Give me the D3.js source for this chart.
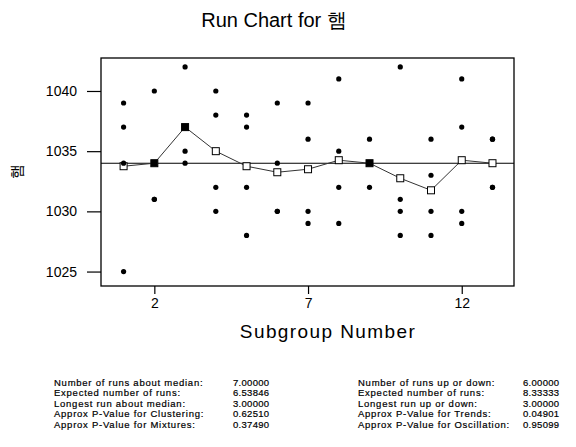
<!DOCTYPE html>
<html>
<head>
<meta charset="utf-8">
<script src="https://cdn.jsdelivr.net/npm/d3@7"></script>
<style>
  html, body { margin: 0; padding: 0; background: #fff; }
  svg { display: block; font-family: Arial, "Liberation Sans", sans-serif; }
</style>
</head>
<body>
<svg id="chart" width="576" height="447"></svg>
<script>
// Subgroup numbers and the four observations recorded in each subgroup
const subgroups = [1, 2, 3, 4, 5, 6, 7, 8, 9, 10, 11, 12, 13];
const observations = [
  [1039, 1037, 1034, 1025],
  [1040, 1034, 1031, 1031],
  [1042, 1037, 1035, 1034],
  [1040, 1038, 1032, 1030],
  [1038, 1037, 1032, 1028],
  [1039, 1034, 1030, 1030],
  [1039, 1036, 1030, 1029],
  [1041, 1035, 1032, 1029],
  [1036, 1034, 1034, 1032],
  [1042, 1031, 1030, 1028],
  [1036, 1033, 1030, 1028],
  [1041, 1037, 1030, 1029],
  [1036, 1036, 1032, 1032]
];
const xTicks = [2, 7, 12];
const yTicks = [1025, 1030, 1035, 1040];

// Run test summary
const medianLabels = ["Number of runs about median:", "Expected number of runs:", "Longest run about median:",
                      "Approx P-Value for Clustering:", "Approx P-Value for Mixtures:"];
const medianValues = ["7.00000", "6.53846", "3.00000", "0.62510", "0.37490"];
const trendLabels = ["Number of runs up or down:", "Expected number of runs:", "Longest run up or down:",
                     "Approx P-Value for Trends:", "Approx P-Value for Oscillation:"];
const trendValues = ["6.00000", "8.33333", "3.00000", "0.04901", "0.95099"];

const svg = d3.select("#chart");
const plot = { left: 101, top: 58, right: 514, bottom: 286 };

const x = d3.scaleLinear().domain([0.265, 13.7]).range([plot.left, plot.right]);
const y = d3.scaleLinear().domain([1023.8, 1042.74]).range([plot.bottom, plot.top]);

const means = observations.map(o => d3.mean(o));
const median = d3.median(means);

// Title
svg.append("text")
  .attr("x", 274).attr("y", 27)
  .attr("text-anchor", "middle")
  .attr("font-size", 20)
  .text("Run Chart for 햄");

// Axes
const yAxis = d3.axisLeft(y).tickValues(yTicks).tickSize(14).tickPadding(10).tickFormat(d3.format("d"));
const gy = svg.append("g").attr("transform", `translate(${plot.left},0)`).call(yAxis);
const xAxis = d3.axisBottom(x).tickValues(xTicks).tickSize(8).tickPadding(4).tickFormat(d3.format("d"));
const gx = svg.append("g").attr("transform", `translate(0,${plot.bottom})`).call(xAxis);
[gy, gx].forEach(g => {
  g.select(".domain").remove();
  g.selectAll(".tick line").attr("stroke", "#000").attr("stroke-width", 1.2);
  g.selectAll(".tick text").attr("font-size", 14).attr("fill", "#000")
    .attr("font-family", "Arial, 'Liberation Sans', sans-serif");
});

// Axis titles
svg.append("text")
  .attr("x", 328).attr("y", 338)
  .attr("text-anchor", "middle")
  .attr("font-size", 19)
  .attr("letter-spacing", 1.4)
  .text("Subgroup Number");
svg.append("text")
  .attr("transform", "translate(22,171) rotate(-90)")
  .attr("text-anchor", "middle")
  .attr("font-size", 15)
  .text("햄");

// Plot frame
svg.append("rect")
  .attr("x", plot.left).attr("y", plot.top)
  .attr("width", plot.right - plot.left).attr("height", plot.bottom - plot.top)
  .attr("fill", "none").attr("stroke", "#000").attr("stroke-width", 1.3);

// Median reference line
svg.append("line")
  .attr("x1", plot.left).attr("x2", plot.right)
  .attr("y1", y(median)).attr("y2", y(median))
  .attr("stroke", "#000").attr("stroke-width", 1.1);

// Subgroup means connected
const meanLine = d3.line().x((d, i) => x(subgroups[i])).y(d => y(d));
svg.append("path")
  .datum(means)
  .attr("d", meanLine)
  .attr("fill", "none").attr("stroke", "#333").attr("stroke-width", 1);

const sq = 7;
svg.append("g").selectAll("rect")
  .data(means)
  .join("rect")
  .attr("x", (d, i) => x(subgroups[i]) - sq / 2)
  .attr("y", d => y(d) - sq / 2)
  .attr("width", sq).attr("height", sq)
  .attr("fill", "#fff").attr("stroke", "#000").attr("stroke-width", 1);

// Individual observations
const points = observations.flatMap((o, i) => o.map(v => ({ s: subgroups[i], v })));
const dotsG = svg.append("g");
dotsG.selectAll("circle")
  .data(points)
  .join("circle")
  .attr("cx", d => x(d.s)).attr("cy", d => y(d.v))
  .attr("r", 2.6).attr("fill", "#000");

// Means that coincide with an observation show as solid squares
dotsG.selectAll("rect")
  .data(means.map((m, i) => ({ m, i })).filter(d => observations[d.i].includes(d.m)))
  .join("rect")
  .attr("x", d => x(subgroups[d.i]) - sq / 2)
  .attr("y", d => y(d.m) - sq / 2)
  .attr("width", sq).attr("height", sq)
  .attr("fill", "#000");

// Summary table below the chart
function table(labels, values, xl, xv) {
  const g = svg.append("g").attr("font-size", 9.5).attr("fill", "#000")
    .attr("stroke", "#000").attr("stroke-width", 0.2);
  labels.forEach((t, i) => {
    const yy = 385.5 + i * 10.5;
    g.append("text").attr("x", xl).attr("y", yy).attr("letter-spacing", 0.75).text(t);
    g.append("text").attr("x", xv).attr("y", yy).attr("letter-spacing", 0.3).text(values[i]);
  });
}
table(medianLabels, medianValues, 54, 233);
table(trendLabels, trendValues, 358, 523);
</script>
</body>
</html>
